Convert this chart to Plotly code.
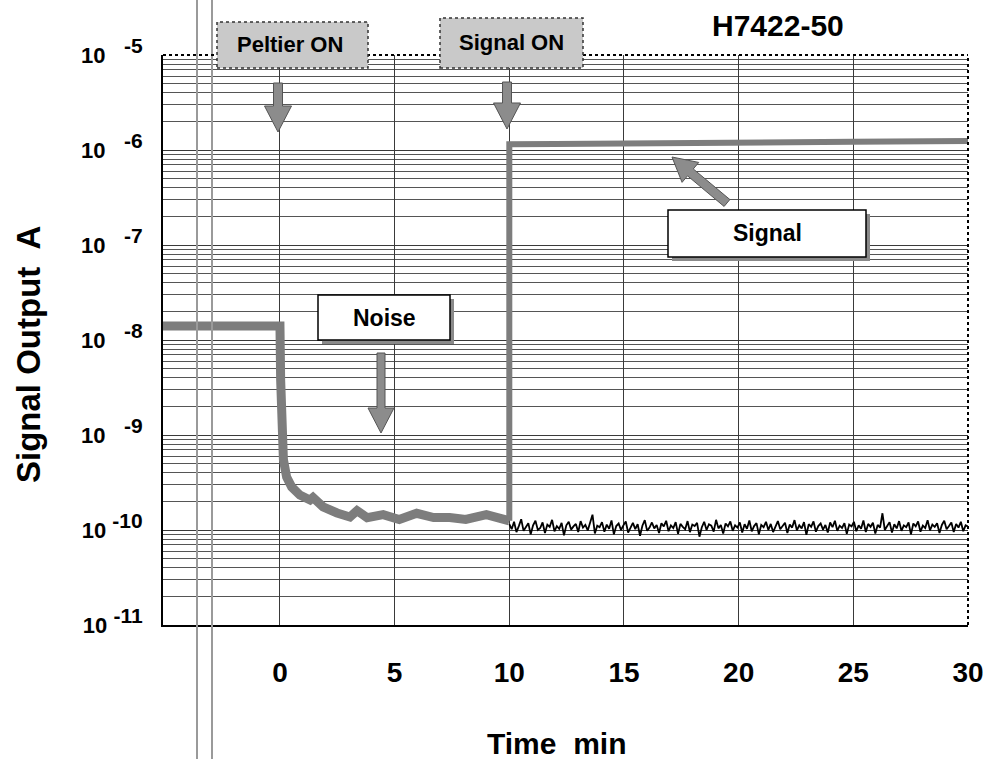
import numpy as np
import plotly.graph_objects as go

# ---------------- data ----------------
# Noise (dark current) before Peltier cooling and during cool-down (thick grey trace)
noise_t = [-5.1, -3.0, -1.0, 0.0, 0.03, 0.07, 0.15, 0.29, 0.51, 0.87, 1.31, 1.44,
           1.88, 2.49, 3.05, 3.36, 3.8, 4.5, 5.2, 5.96, 6.7, 7.4, 8.1, 9.0, 9.6, 10.0]
noise_v = [1.4e-8, 1.4e-8, 1.4e-8, 1.4e-8, 3.8e-9, 1.13e-9, 5.5e-10, 3.6e-10, 2.84e-10,
           2.33e-10, 2.07e-10, 2.2e-10, 1.75e-10, 1.51e-10, 1.37e-10, 1.6e-10, 1.35e-10,
           1.45e-10, 1.29e-10, 1.5e-10, 1.35e-10, 1.35e-10, 1.29e-10, 1.45e-10, 1.29e-10,
           1.25e-10]

# Noise after signal ON (thin black jagged trace), units of 1e-10 A, 10 -> 30 min
noise_after_e10 = [
    1.15, 1.02, 1.22, 0.95, 1.10, 1.30, 0.98, 1.08, 1.18, 0.90, 1.12, 1.25, 1.00, 1.05,
    1.20, 0.93, 1.14, 1.08, 1.28, 0.97, 1.10, 1.03, 1.19, 0.88, 1.12, 1.22, 1.01, 1.09,
    1.16, 0.95, 1.24, 1.06, 1.13, 0.99, 1.18, 1.45, 0.92, 1.11, 1.07, 1.21, 0.96, 1.14,
    1.03, 1.26, 0.90, 1.10, 1.17, 1.00, 1.12, 1.23, 0.94, 1.08, 1.19, 1.02, 1.15, 0.87,
    1.11, 1.27, 0.98, 1.06, 1.20, 1.04, 1.13, 0.93, 1.18, 1.09, 1.25, 0.97, 1.12, 1.05,
    1.21, 0.91, 1.16, 1.08, 1.02, 1.24, 0.95, 1.14, 1.10, 1.19, 0.85, 1.07, 1.22, 1.00,
    1.15, 1.11, 0.96, 1.28, 1.04, 1.13, 0.92, 1.17, 1.09, 1.23, 0.98, 1.12, 1.06, 1.20,
    0.94, 1.15, 1.03, 1.26, 0.97, 1.10, 1.18, 0.90, 1.13, 1.07, 1.22, 1.00, 1.16, 0.95,
    1.11, 1.24, 1.02, 1.09, 1.19, 0.93, 1.14, 1.06, 1.27, 0.99, 1.12, 1.04, 1.21, 0.89,
    1.15, 1.08, 1.23, 0.96, 1.10, 1.17, 1.01, 1.13, 0.94, 1.20, 1.07, 1.25, 0.98, 1.11,
    1.05, 1.18, 0.91, 1.14, 1.09, 1.22, 0.97, 1.12, 1.03, 1.26, 0.95, 1.16, 1.08, 1.19,
    0.92, 1.13, 1.06, 1.50, 1.00, 1.10, 1.21, 0.94, 1.15, 1.04, 1.24, 0.98, 1.12, 1.07,
    1.20, 0.90, 1.17, 1.09, 1.23, 0.96, 1.11, 1.05, 1.27, 0.99, 1.14, 1.08, 1.18, 0.93,
    1.13, 1.25, 1.02, 1.10, 1.20, 0.95, 1.16, 1.06, 1.22, 0.97, 1.12, 1.09]

# Signal (thick grey trace), jump at 10 min
signal_t = [10.0, 10.0, 12.0, 15.0, 20.0, 25.0, 30.0]
signal_v = [1.25e-10, 1.15e-6, 1.16e-6, 1.18e-6, 1.2e-6, 1.22e-6, 1.24e-6]

x_ticks = [0, 5, 10, 15, 20, 25, 30]
y_exps = [-11, -10, -9, -8, -7, -6, -5]

# ---------------- figure ----------------
W, H = 983, 759
L, R, T, B = 163, 15, 55, 134
PW, PH = W - L - R, H - T - B

def fx(p):
    return (p - L) / PW

def fy(p):
    return (H - B - p) / PH

FONT = "Arial, Liberation Sans, sans-serif"
GREY = "#7d7d7d"

fig = go.Figure()

fig.add_trace(go.Scatter(x=noise_t, y=noise_v, mode="lines",
                         line=dict(color=GREY, width=9),
                         hoverinfo="skip", showlegend=False))
t_after = np.linspace(10.0, 30.0, len(noise_after_e10))
fig.add_trace(go.Scatter(x=t_after, y=np.array(noise_after_e10) * 1e-10, mode="lines",
                         line=dict(color="black", width=1.8),
                         hoverinfo="skip", showlegend=False))
fig.add_trace(go.Scatter(x=signal_t, y=signal_v, mode="lines",
                         line=dict(color=GREY, width=6),
                         hoverinfo="skip", showlegend=False))

shapes = []
annotations = []

# scanner artifacts (double vertical stripes)
for p in (197, 212):
    shapes.append(dict(type="line", xref="paper", yref="paper", x0=fx(p), x1=fx(p),
                       y0=fy(H), y1=fy(0), line=dict(color="#9a9a9a", width=2), layer="above"))

# dotted top / right frame
shapes.append(dict(type="line", xref="paper", yref="paper", x0=0, x1=1, y0=1, y1=1,
                   line=dict(color="black", width=2, dash="dot")))
shapes.append(dict(type="line", xref="paper", yref="paper", x0=1, x1=1, y0=0, y1=1,
                   line=dict(color="black", width=2, dash="dot")))

def box(x0, y0, x1, y1, fill, dotted=False, shadow=False):
    if shadow:
        shapes.append(dict(type="rect", xref="paper", yref="paper",
                           x0=fx(x0 + 4), x1=fx(x1 + 4), y0=fy(y1 + 4), y1=fy(y0 + 4),
                           fillcolor="#8a8a8a", line=dict(width=0), layer="above"))
    shapes.append(dict(type="rect", xref="paper", yref="paper",
                       x0=fx(x0), x1=fx(x1), y0=fy(y1), y1=fy(y0),
                       fillcolor=fill,
                       line=dict(color="#333" if dotted else "black", width=1.5,
                                 dash="dot" if dotted else "solid"),
                       layer="above"))

def label(text, xc, yc, size):
    annotations.append(dict(text="<b>%s</b>" % text, xref="paper", yref="paper",
                            x=fx(xc), y=fy(yc), showarrow=False,
                            xanchor="center", yanchor="middle",
                            font=dict(family=FONT, size=size, color="black")))

def arrow(tail, tip, sw=9, hw=27, hl=26):
    tx, ty = tail
    px_, py_ = tip
    dx, dy = px_ - tx, py_ - ty
    ln = (dx * dx + dy * dy) ** 0.5
    ux, uy = dx / ln, dy / ln
    nx, ny = -uy, ux
    bx, by = px_ - ux * hl, py_ - uy * hl
    pts = [(tx + nx * sw / 2, ty + ny * sw / 2), (bx + nx * sw / 2, by + ny * sw / 2),
           (bx + nx * hw / 2, by + ny * hw / 2), (px_, py_),
           (bx - nx * hw / 2, by - ny * hw / 2), (bx - nx * sw / 2, by - ny * sw / 2),
           (tx - nx * sw / 2, ty - ny * sw / 2)]
    path = "M " + " L ".join("%.5f,%.5f" % (fx(a), fy(b)) for a, b in pts) + " Z"
    shapes.append(dict(type="path", xref="paper", yref="paper", path=path,
                       fillcolor="#8c8c8c", line=dict(color="#555", width=1), layer="above"))

# Peltier ON
box(217, 22, 368, 68, "#c9c9c9", dotted=True)
label("Peltier ON", 290, 45, 22)
arrow((278, 83), (278, 132))
# Signal ON
box(440, 18, 583, 68, "#c9c9c9", dotted=True)
label("Signal ON", 511, 43, 22)
arrow((507, 82), (507, 129))
# Noise
box(318, 295, 450, 340, "white", shadow=True)
label("Noise", 384, 318, 23)
arrow((381, 353), (381, 433), sw=8, hw=26, hl=25)
# Signal
box(668, 210, 866, 257, "white", shadow=True)
label("Signal", 767, 233, 23)
arrow((727, 203), (672, 157), sw=9, hw=26, hl=24)

# title & axis titles
label("H7422-50", 778, 25, 30)
annotations.append(dict(text="<b>Signal Output  A</b>", xref="paper", yref="paper",
                        x=fx(28), y=fy(355), showarrow=False, textangle=-90,
                        xanchor="center", yanchor="middle",
                        font=dict(family=FONT, size=33, color="black")))
label("Time  min", 556, 743, 30)

def ytext(e):
    gap = "\u00a0\u00a0\u00a0" if e > -10 else "\u00a0"
    return "10" + gap + "<sup><span style='font-size:21px'>%d</span></sup>" % e

fig.update_layout(
    width=W, height=H,
    margin=dict(l=L, r=R, t=T, b=B, pad=0, autoexpand=False),
    paper_bgcolor="white", plot_bgcolor="white",
    shapes=shapes, annotations=annotations,
    showlegend=False,
    xaxis=dict(range=[-5.1, 30], tickmode="array", tickvals=x_ticks,
               ticktext=[str(v) for v in x_ticks], ticks="",
               tickfont=dict(family=FONT, size=28, color="black", weight="bold"),
               ticklabelstandoff=21, ticklabeloverflow="allow", automargin=False,
               showgrid=True, gridcolor="#3a3a3a", gridwidth=1,
               showline=True, linecolor="black", linewidth=2, zeroline=False),
    yaxis=dict(type="log", range=[-11, -5], tickmode="array",
               tickvals=[10.0 ** e for e in y_exps],
               ticktext=[ytext(e) for e in y_exps],
               ticks="", automargin=False,
               tickfont=dict(family=FONT, size=22, color="black", weight="bold"),
               ticklabelstandoff=14,
               showgrid=True, gridcolor="#3a3a3a", gridwidth=1,
               minor=dict(dtick="D1", showgrid=True, gridcolor="#555", gridwidth=1),
               showline=True, linecolor="black", linewidth=2, zeroline=False),
)

fig.write_html("out.html", config={"displayModeBar": False},
               post_script="document.body.style.margin='0';document.body.style.overflow='hidden';")
